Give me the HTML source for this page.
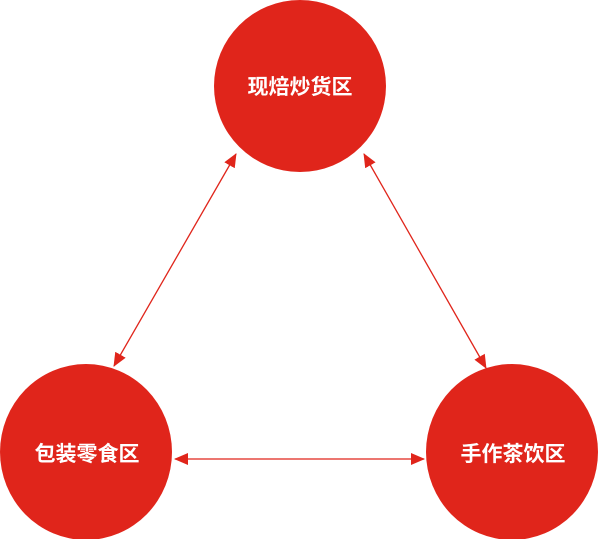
<!DOCTYPE html>
<html><head><meta charset="utf-8"><style>
html,body{margin:0;padding:0;background:#fff;}
svg{display:block}
text{font-family:"Liberation Sans","Noto Sans CJK SC",sans-serif;font-weight:bold;font-size:21px;fill:#fff}
</style></head><body>
<svg width="600" height="539" viewBox="0 0 600 539">
<defs>
<marker id="b" markerWidth="14" markerHeight="12" refX="13" refY="6" orient="auto-start-reverse" markerUnits="userSpaceOnUse" viewBox="0 0 14 12">
<path d="M0,0 L14,6 L0,12 Z" fill="#e0251b"/></marker>
</defs>
<ellipse cx="300" cy="86" rx="86" ry="86" fill="#e0251b"/>
<ellipse cx="86" cy="452" rx="86" ry="88" fill="#e0251b"/>
<ellipse cx="512" cy="452" rx="86" ry="88" fill="#e0251b"/>
<line x1="236" y1="154" x2="114" y2="366" stroke="#e0251b" stroke-width="1.3" marker-start="url(#b)" marker-end="url(#b)"/>
<line x1="364" y1="154" x2="486" y2="368" stroke="#e0251b" stroke-width="1.3" marker-start="url(#b)" marker-end="url(#b)"/>
<line x1="175" y1="459" x2="424" y2="459" stroke="#e0251b" stroke-width="1.3" marker-start="url(#b)" marker-end="url(#b)"/>
<text x="300" y="94" text-anchor="middle">现焙炒货区</text>
<text x="87" y="461" text-anchor="middle">包装零食区</text>
<text x="513" y="461" text-anchor="middle">手作茶饮区</text>
</svg>
</body></html>
